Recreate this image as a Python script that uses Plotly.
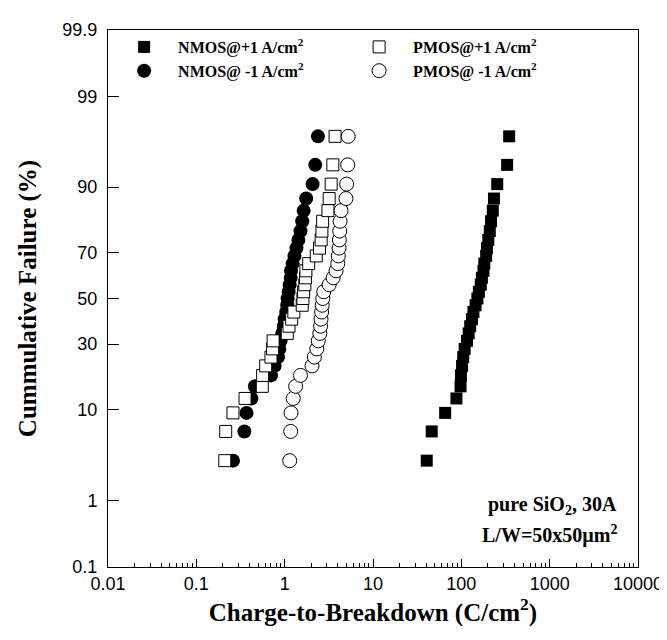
import plotly.graph_objects as go
from statistics import NormalDist

# cumulative failure (%) for ranks 1..31
failure_pct = [3.1, 6.3, 9.4, 12.5, 15.6, 18.8, 21.9, 25.0, 28.1, 31.3, 34.4,
               37.5, 40.6, 43.8, 46.9, 50.0, 53.1, 56.3, 59.4, 62.5, 65.6, 68.8,
               71.9, 75.0, 78.1, 81.3, 84.4, 87.5, 90.6, 93.8, 96.9]

# charge-to-breakdown (C/cm^2)
nmos_pos = [40.6, 46.2, 65.6, 88, 98, 99, 102, 105, 109, 116, 121, 126, 132, 137,
            145, 152, 158, 166, 171, 178, 182, 191, 195, 202, 210, 217, 227, 234,
            255, 330, 348]
nmos_neg = [0.26, 0.35, 0.37, 0.42, 0.46, 0.70, 0.77, 0.84, 0.87, 0.90, 0.94, 0.98,
            1.00, 1.04, 1.07, 1.08, 1.11, 1.14, 1.17, 1.18, 1.23, 1.29, 1.36, 1.43,
            1.51, 1.58, 1.64, 1.75, 2.07, 2.22, 2.38]
pmos_pos = [0.21, 0.215, 0.26, 0.356, 0.558, 0.563, 0.61, 0.70, 0.73, 0.74, 1.07,
            1.12, 1.20, 1.27, 1.58, 1.61, 1.64, 1.69, 1.72, 1.74, 1.87, 2.28, 2.48,
            2.59, 2.64, 2.69, 3.09, 3.19, 3.36, 3.51, 3.72]
pmos_neg = [1.14, 1.17, 1.18, 1.25, 1.33, 1.51, 2.04, 2.17, 2.31, 2.40, 2.50, 2.55,
            2.58, 2.62, 2.66, 2.70, 2.77, 3.19, 3.54, 3.82, 3.99, 4.05, 4.13, 4.16,
            4.20, 4.24, 4.35, 4.94, 5.03, 5.17, 5.24]

y_tick_pct = [0.1, 1, 10, 30, 50, 70, 90, 99, 99.9]
y_tick_text = ["0.1", "1", "10", "30", "50", "70", "90", "99", "99.9"]
x_tick_vals = [0.01, 0.1, 1, 10, 100, 1000, 10000]
x_tick_text = ["0.01", "0.1", "1", "10", "100", "1000", "10000"]

nd = NormalDist()


def prob(p):
    return nd.inv_cdf(p / 100.0)


y_vals = [prob(p) for p in failure_pct]

serif = "Liberation Serif, Times New Roman, serif"
sans = "Liberation Sans, Arial, sans-serif"

fig = go.Figure()
fig.add_trace(go.Scatter(
    x=nmos_pos, y=y_vals, mode="markers", name="NMOS@+1 A/cm<sup>2</sup>",
    marker=dict(symbol="square", size=12, color="black"), legendrank=1))
fig.add_trace(go.Scatter(
    x=nmos_neg, y=y_vals, mode="markers", name="NMOS@ -1 A/cm<sup>2</sup>",
    marker=dict(symbol="circle", size=14, color="black"), legendrank=3))
fig.add_trace(go.Scatter(
    x=pmos_pos, y=y_vals, mode="markers", name="PMOS@+1 A/cm<sup>2</sup>",
    marker=dict(symbol="square", size=12, color="white",
                line=dict(color="black", width=1)), legendrank=2))
fig.add_trace(go.Scatter(
    x=pmos_neg, y=y_vals, mode="markers", name="PMOS@ -1 A/cm<sup>2</sup>",
    marker=dict(symbol="circle", size=14, color="white",
                line=dict(color="black", width=1)), legendrank=4))

fig.update_layout(
    width=667, height=640,
    margin=dict(l=100, r=31, t=22, b=81),
    paper_bgcolor="white", plot_bgcolor="white",
    showlegend=True,
    legend=dict(orientation="h", x=0.004, y=1.0, xanchor="left", yanchor="top",
                itemwidth=58, entrywidth=162, entrywidthmode="pixels",
                font=dict(family=serif, size=16, color="black", weight="bold"),
                bgcolor="rgba(0,0,0,0)", traceorder="normal"),
    xaxis=dict(type="log", range=[-2, 4], tickmode="array",
               tickvals=x_tick_vals, ticktext=x_tick_text,
               ticks="inside", ticklen=8, tickcolor="black", tickwidth=1,
               showline=True, linecolor="black", linewidth=1, mirror=True,
               showgrid=False, zeroline=False,
               minor=dict(dtick="D1", ticks="inside", ticklen=4,
                          tickcolor="black", showgrid=False),
               tickfont=dict(family=sans, size=18, color="black"),
               title=dict(text="Charge-to-Breakdown (C/cm<sup>2</sup>)",
                          font=dict(family=serif, size=25, color="black",
                                    weight="bold"),
                          standoff=10)),
    yaxis=dict(range=[prob(0.1), prob(99.9)], tickmode="array",
               tickvals=[prob(p) for p in y_tick_pct], ticktext=y_tick_text,
               ticks="inside", ticklen=11, tickcolor="black", tickwidth=1,
               showline=True, linecolor="black", linewidth=1, mirror=True,
               showgrid=False, zeroline=False,
               tickfont=dict(family=sans, size=18, color="black"),
               ticklabelstandoff=6,
               title=dict(text="Cummulative Failure (%)",
                          font=dict(family=serif, size=25, color="black",
                                    weight="bold"),
                          standoff=18)),
    annotations=[
        dict(text="pure SiO<sub>2</sub>, 30A", xref="paper", yref="paper",
             x=0.965, y=0.115, xanchor="right", yanchor="middle", showarrow=False,
             font=dict(family=serif, size=20, color="black", weight="bold")),
        dict(text="L/W=50x50\u00b5m<sup>2</sup>", xref="paper", yref="paper",
             x=0.965, y=0.06, xanchor="right", yanchor="middle", showarrow=False,
             font=dict(family=serif, size=20, color="black", weight="bold")),
    ],
)

fig.write_html("out.html")
